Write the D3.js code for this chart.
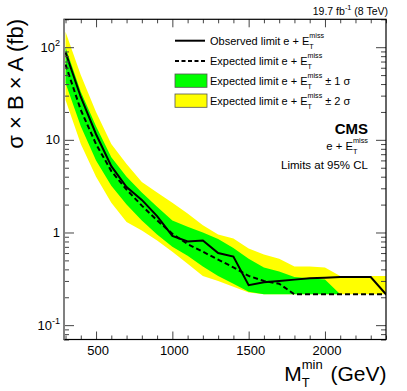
<!DOCTYPE html>
<html><head><meta charset="utf-8">
<script src="https://cdn.jsdelivr.net/npm/d3@7"></script>
<style>body{margin:0;background:#fff} svg{display:block} text{font-family:"Liberation Sans",Arial,Helvetica,sans-serif;white-space:pre}</style>
</head><body><svg id="c" width="407" height="391"></svg>
<script>
// ---- data ----
const mass     = [300,400,500,600,700,800,900,1000,1100,1200,1300,1400,1500,1600,1700,1800,1900,2000,2100,2200,2300,2400];
const observed = [88,29,11.5,5.2,3.1,2.25,1.5,0.92,0.80,0.82,0.60,0.55,0.27,0.29,0.30,0.31,0.32,0.325,0.33,0.33,0.33,0.215];
const expected = [65,21,9,4.6,2.9,1.95,1.35,0.97,0.75,0.62,0.51,0.42,0.34,0.30,0.28,0.215,0.215,0.215,0.215,0.215,0.215,0.215];
const minus2   = [27,9,4,2.1,1.3,1.05,0.82,0.62,0.46,0.34,0.30,0.26,0.225,0.215,0.215,0.215,0.215,0.215,0.215,0.215,0.215,0.215];
const minus1   = [41,14,6,3.2,2.0,1.35,0.95,0.70,0.56,0.43,0.34,0.28,0.23,0.215,0.215,0.215,0.215,0.215,0.215,0.215,0.215,0.215];
const plus1    = [100,33,14,6.5,4.0,2.7,1.9,1.35,1.15,1.0,0.85,0.68,0.52,0.42,0.38,0.33,0.32,0.31,0.215,0.215,0.215,0.215];
const plus2    = [147,50,20,9,5.5,3.5,2.7,2.1,1.6,1.2,0.95,0.86,0.67,0.58,0.52,0.43,0.43,0.42,0.34,0.34,0.34,0.34];
const xTicks = [500,1000,1500,2000];
const yTicks = [0.1,1,10,100];
const yTickLabels = [["10","-1"],["1",""],["10",""],["10","2"]];
const legendLabels = ["Observed limit e + E","Expected limit e + E","Expected limit e + E","Expected limit e + E"];
const legendSuffix = [""," "," ± 1 σ"," ± 2 σ"];

// ---- layout ----
const L=64, R=386, T=19.3, B=339.5;
const svg=d3.select("#c");
const x=d3.scaleLinear().domain([290,2400]).range([L,R]);
const y=d3.scaleLog().domain([0.07,200]).range([B,T]);

svg.append("clipPath").attr("id","clip").append("rect").attr("x",L).attr("y",T).attr("width",R-L).attr("height",B-T);
const plot=svg.append("g").attr("clip-path","url(#clip)");

const rows=mass.map((m,i)=>({m,o:observed[i],e:expected[i],m2:minus2[i],m1:minus1[i],p1:plus1[i],p2:plus2[i]}));
plot.append("path").datum(rows).attr("fill","#ffff00")
  .attr("d",d3.area().x(d=>x(d.m)).y0(d=>y(d.m2)).y1(d=>y(d.p2)));
plot.append("path").datum(rows).attr("fill","#00ff00")
  .attr("d",d3.area().x(d=>x(d.m)).y0(d=>y(d.m1)).y1(d=>y(d.p1)));
plot.append("path").datum(rows).attr("fill","none").attr("stroke","#000").attr("stroke-width",2).attr("stroke-dasharray","5,3")
  .attr("d",d3.line().x(d=>x(d.m)).y(d=>y(d.e)));
plot.append("path").datum(rows).attr("fill","none").attr("stroke","#000").attr("stroke-width",2)
  .attr("d",d3.line().x(d=>x(d.m)).y(d=>y(d.o)));

// ---- axes / ticks ----
const xMinor=d3.range(300,2401,100).filter(v=>!xTicks.includes(v));
const yMinor=[];[0.01,0.1,1,10,100].forEach(d=>{for(let k=2;k<=9;k++){const v=d*k;if(v>=0.07&&v<=200)yMinor.push(v);}});
function ax(gen,scale,vals,size,tr){svg.append("g").attr("transform",tr).call(gen(scale).tickValues(vals).tickSize(size).tickSizeOuter(0).tickFormat(""))
  .call(g=>{g.select(".domain").remove();g.selectAll("line").attr("stroke","#444");});}
ax(d3.axisBottom,x,xTicks,-8,`translate(0,${B})`);
ax(d3.axisBottom,x,xMinor,-4,`translate(0,${B})`);
ax(d3.axisTop,x,xTicks,-8,`translate(0,${T})`);
ax(d3.axisTop,x,xMinor,-4,`translate(0,${T})`);
ax(d3.axisLeft,y,yTicks,-10,`translate(${L},0)`);
ax(d3.axisLeft,y,yMinor,-5,`translate(${L},0)`);
ax(d3.axisRight,y,yTicks,-10,`translate(${R},0)`);
ax(d3.axisRight,y,yMinor,-5,`translate(${R},0)`);
svg.append("rect").attr("x",L).attr("y",T).attr("width",R-L).attr("height",B-T).attr("fill","none").attr("stroke","#000").attr("stroke-width",1.2);
svg.append("line").attr("x1",L).attr("x2",L).attr("y1",T).attr("y2",B).attr("stroke","#808080").attr("stroke-width",2);

// ---- rich text helper ----
function rich(parent,px,py,segs,fs,anchor,opts={}){
  const g=parent.append("g");let cx=0;
  segs.forEach(s=>{
    if(s.t!==undefined){const t=g.append("text").attr("x",cx).attr("y",0).attr("font-size",fs).attr("font-weight",opts.bold?"bold":null).text(s.t);cx+=t.node().getComputedTextLength();}
    else{const sf=fs*(s.scale||0.65);let w=0;
      if(s.sup){const a=g.append("text").attr("x",cx).attr("y",-fs*(s.supOff||0.45)).attr("font-size",sf).text(s.sup);w=Math.max(w,a.node().getComputedTextLength());}
      if(s.sub){const b=g.append("text").attr("x",cx).attr("y",fs*(s.subOff||0.3)).attr("font-size",sf).text(s.sub);w=Math.max(w,b.node().getComputedTextLength());}
      cx+=w+(s.pad||0);}
  });
  const ox=anchor==="end"?px-cx:anchor==="middle"?px-cx/2:px;
  g.attr("transform",`translate(${ox},${py})`);return g;
}

// tick labels
xTicks.forEach(v=>rich(svg,x(v)+2,355,[{t:String(v)}],13,"middle"));
yTicks.forEach((v,i)=>{const [b,s]=yTickLabels[i];const segs=[{t:b}];if(s)segs.push({sup:s,supOff:0.45,scale:0.7});rich(svg,60,y(v)+4.5,segs,13,"end");});

// axis titles
rich(svg,386.5,380.5,[{t:"M"},{sup:"min",sub:"T",supOff:0.56,subOff:0.32,scale:0.62,pad:2},{t:" (GeV)"}],21,"end");
const yt=svg.append("g").attr("transform","translate(23,19) rotate(-90)");
rich(yt,0,0,[{t:"σ × B × A (fb)"}],22,"end");

// top-right
rich(svg,388,15,[{t:"19.7 fb"},{sup:"-1",supOff:0.45,scale:0.7},{t:" (8 TeV)"}],10.5,"end");

// CMS block
rich(svg,368,133.5,[{t:"CMS"}],15,"end",{bold:true});
rich(svg,368,150,[{t:"e + E"},{sup:"miss",sub:"T",supOff:0.65,subOff:0.35,scale:0.65}],11.3,"end");
rich(svg,368,169,[{t:"Limits at 95% CL"}],11.5,"end");

// legend
const lg=svg.append("g");
const ly=[40.7,61,80.7,100.7];
lg.append("line").attr("x1",175).attr("x2",205).attr("y1",ly[0]).attr("y2",ly[0]).attr("stroke","#000").attr("stroke-width",2);
lg.append("line").attr("x1",175).attr("x2",205).attr("y1",ly[1]).attr("y2",ly[1]).attr("stroke","#000").attr("stroke-width",2).attr("stroke-dasharray","4,2.5");
lg.append("rect").attr("x",175).attr("y",ly[2]-6.7).attr("width",32).attr("height",13.3).attr("fill","#00ff00").attr("stroke","#555").attr("stroke-width",0.8);
lg.append("rect").attr("x",175).attr("y",ly[3]-6.7).attr("width",32).attr("height",13.3).attr("fill","#ffff00").attr("stroke","#555").attr("stroke-width",0.8);
legendLabels.forEach((t,i)=>{
  const segs=[{t},{sup:"miss",sub:"T",supOff:0.65,subOff:0.35,scale:0.65}];
  if(legendSuffix[i].trim())segs.push({t:legendSuffix[i]});
  rich(lg,210,ly[i]+4,segs,11,"start");
});
</script></body></html>
